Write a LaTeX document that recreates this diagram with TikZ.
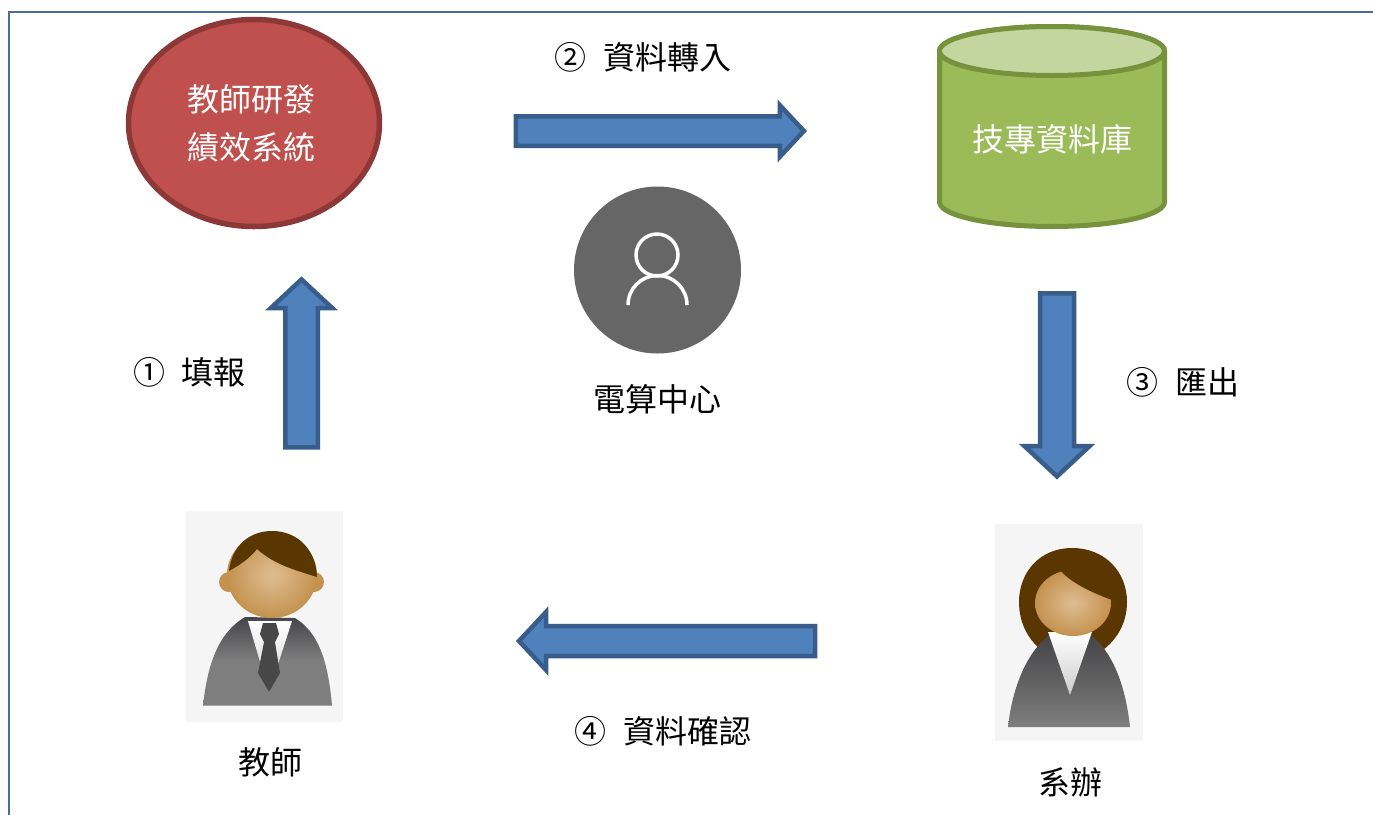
\documentclass[tikz,border=0pt]{standalone}
\usepackage{fontspec}
\setmainfont{Noto Sans CJK TC}
\usetikzlibrary{shapes.arrows,shapes.geometric}
\definecolor{framec}{HTML}{4A6C9E}
\definecolor{redfill}{HTML}{C0504D}
\definecolor{redline}{HTML}{8C3836}
\definecolor{greenfill}{HTML}{9BBB59}
\definecolor{greentop}{HTML}{C4D6A0}
\definecolor{greenline}{HTML}{76923C}
\definecolor{bluefill}{HTML}{4F81BD}
\definecolor{blueline}{HTML}{385D8A}
\definecolor{picbg}{HTML}{F5F5F6}
\definecolor{skinlight}{HTML}{DFBD92}
\definecolor{skindark}{HTML}{C4924F}
\definecolor{hairc}{HTML}{5A3600}
\definecolor{suitdark}{HTML}{46464A}
\definecolor{suitmid}{HTML}{7E7E7E}
\tikzset{
  x=1pt,y=-1pt,
  textlabel/.style={font=\fontsize{32}{48}\selectfont,text=black,inner sep=0pt,align=center},
  whitelabel/.style={textlabel,text=white},
  bigarrow/.style={single arrow,draw=blueline,fill=bluefill,line width=4.5pt,inner xsep=0pt,inner ysep=#1,
    single arrow tip angle=94},
  skin/.style={inner color=skinlight,outer color=skindark},
  suit/.style={top color=suitdark,bottom color=suitmid,middle color=suitmid,shading angle=0},
  iconline/.style={draw=white,line width=3.5pt},
}
\begin{document}
\begin{tikzpicture}
\useasboundingbox (0,0) rectangle (1373,815);
\fill[white] (0,0) rectangle (1373,815);
% frame
\draw[framec,line width=2pt] (1373,12) -- (9,12) -- (9,815);

% system ellipse
\node[ellipse,draw=redline,fill=redfill,line width=5.5pt,minimum width=251pt,minimum height=207pt,inner sep=0pt] (system) at (254,123) {};
\node[whitelabel] (systemtext) at (251,123) {教師研發\\績效系統};

% database cylinder
\filldraw[draw=greenline,fill=greenfill,line width=5pt]
  (939.5,51) -- (939.5,202) arc[start angle=180,end angle=0,x radius=112.5,y radius=24.5]
  -- (1164.5,51) arc[start angle=0,end angle=-180,x radius=112.5,y radius=24.5] -- cycle;
\filldraw[draw=greenline,fill=greentop,line width=5pt] (1052,51) ellipse[x radius=112.5,y radius=24.5];
\node[whitelabel] (database) at (1052,139) {技專資料庫};

% computer center icon
\fill[fill=black!60] (657.5,270) circle[radius=83.5];
\draw[iconline] (657,255) circle[radius=21];
\draw[iconline] (628,305) arc[start angle=180,end angle=360,radius=29.5];
\node[textlabel] (center) at (657,399) {電算中心};

% teacher picture
\fill[picbg] (186,511) rectangle (343,722);
\shade[suit] (203,705.5) .. controls (208,660) and (220,632) .. (245,617) -- (295,618) .. controls (318,632) and (328,660) .. (332,705.5) -- cycle;
\shade[top color=white,bottom color=black!18] (248,621) -- (292,621) -- (269,692) -- cycle;
\fill[black!72] (263,623) -- (276,623) -- (279,634) -- (275,642) -- (280,673) -- (269,692) -- (258,673) -- (264,642) -- (260,634) -- cycle;
\fill[skindark] (229,582) circle[radius=10];
\fill[skindark] (314,582) circle[radius=10];
\shade[skin] (272,575) ellipse[x radius=45,y radius=43];
\fill[hairc] (229,571) .. controls (232,545) and (250,531) .. (272,531) .. controls (298,531) and (316,550) .. (317,577) .. controls (295,570) and (275,565) .. (257,549) .. controls (250,558) and (240,565) .. (229,571) -- cycle;
\node[textlabel] (teacher) at (270,762) {教師};

% clerk picture
\fill[picbg] (995,524) rectangle (1143,741);
\fill[hairc] (1072,548) .. controls (1105,548) and (1127,572) .. (1127,602) .. controls (1127,625) and (1115,642) .. (1100,652) -- (1044,652) .. controls (1030,642) and (1019,625) .. (1019,602) .. controls (1019,572) and (1040,548) .. (1072,548) -- cycle;
\shade[top color=suitdark,bottom color=suitmid,middle color=black!62] (1008,727) .. controls (1012,690) and (1025,655) .. (1048,636) -- (1092,636) .. controls (1115,655) and (1126,690) .. (1130,727) -- cycle;
\shade[top color=white,bottom color=black!20] (1048,632) -- (1092,632) -- (1070,695) -- cycle;
\shade[skin] (1073,603) ellipse[x radius=38,y radius=33];
\fill[hairc] (1035,600) .. controls (1036,585) and (1048,572) .. (1060,570) .. controls (1070,582) and (1090,592) .. (1112,600) .. controls (1108,575) and (1095,560) .. (1073,558) .. controls (1050,558) and (1036,575) .. (1035,600) -- cycle;
\node[textlabel] (clerk) at (1070,782) {系辦};

% block arrows
\node[bigarrow=14pt,minimum height=168pt,single arrow head extend=14.5pt,rotate=90] (fillin) at (301.5,371) {};
\node[bigarrow=12.5pt,minimum height=288pt,single arrow head extend=11pt,rotate=0] (transfer) at (653,131) {};
\node[bigarrow=14.75pt,minimum height=183pt,single arrow head extend=15.5pt,rotate=270] (export) at (1057,377) {};
\node[bigarrow=12.75pt,minimum height=296pt,single arrow head extend=14pt,rotate=180] (confirm) at (674,641) {};

% arrow labels
\node[textlabel] (l1) at (189.5,372) {①\hspace{17pt}填報};
\node[textlabel] (l2) at (643,57) {②\hspace{17pt}資料轉入};
\node[textlabel] (l3) at (1183,382) {③\hspace{17pt}匯出};
\node[textlabel] (l4) at (663,731) {④\hspace{17pt}資料確認};
\end{tikzpicture}
\end{document}
